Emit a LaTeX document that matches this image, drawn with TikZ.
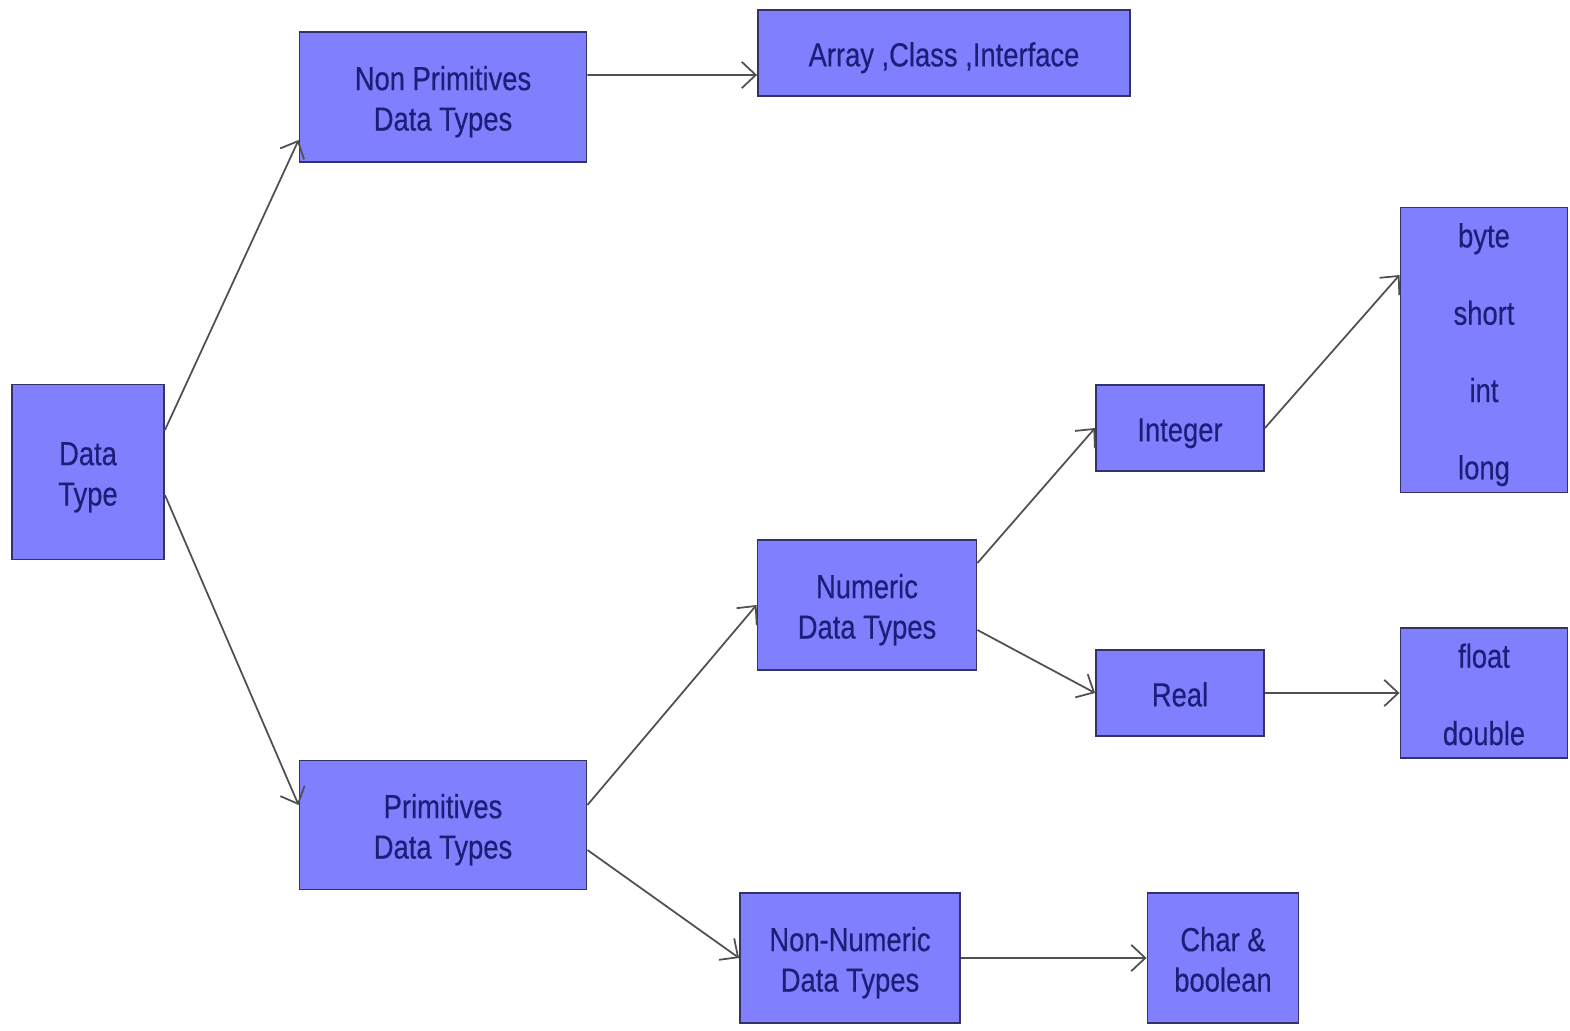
\documentclass[tikz,border=0pt]{standalone}
\usepackage{fontspec}
\setmainfont{Liberation Sans}[FakeStretch=0.82,FakeBold=0.4]
\usetikzlibrary{arrows.meta}
\definecolor{boxfill}{HTML}{8080FF}
\definecolor{boxline}{HTML}{33336A}
\definecolor{boxtext}{HTML}{1E1E78}
\definecolor{arrowc}{HTML}{505050}
\newcommand{\lowtxt}[1]{\raisebox{-3pt}[\height][\depth]{\begin{tabular}{@{}c@{}}#1\end{tabular}}}
\tikzset{
  box/.style={draw=boxline, line width=1.1pt, fill=boxfill, text=boxtext,
    inner sep=0pt, font=\fontsize{19}{23}\selectfont},
  conn/.style={draw=arrowc, line width=1pt, -{Straight Barb[length=8pt,width=15pt,line width=1pt]}}
}
\begin{document}
\begin{tikzpicture}[x=0.02cm,y=-0.02cm]
\useasboundingbox (0,0) rectangle (1570,1031);
\node[box, minimum width=3.04cm, minimum height=3.5cm] (dt) at (88,472) {\lowtxt{Data\\Type}};
\node[box, minimum width=5.74cm, minimum height=2.6cm] (np) at (443,97) {\lowtxt{Non Primitives\\Data Types}};
\node[box, minimum width=7.44cm, minimum height=1.72cm] (arr) at (944,53) {\lowtxt{Array ,Class ,Interface}};
\node[box, minimum width=5.74cm, minimum height=2.58cm] (pr) at (443,825) {\lowtxt{Primitives\\Data Types}};
\node[box, minimum width=4.38cm, minimum height=2.6cm] (num) at (867,605) {\lowtxt{Numeric\\Data Types}};
\node[box, minimum width=4.4cm, minimum height=2.6cm] (nn) at (850,958) {\lowtxt{Non-Numeric\\Data Types}};
\node[box, minimum width=3.36cm, minimum height=1.72cm] (int) at (1180,428) {\lowtxt{Integer}};
\node[box, minimum width=3.36cm, minimum height=1.72cm] (real) at (1180,693) {\lowtxt{Real}};
\node[box, minimum width=3.34cm, minimum height=5.7cm] (ints) at (1484,350) {\lowtxt{byte\\[21pt]short\\[21pt]int\\[21pt]long}};
\node[box, minimum width=3.34cm, minimum height=2.6cm] (flt) at (1484,693) {\lowtxt{float\\[21pt]double}};
\node[box, minimum width=3.02cm, minimum height=2.6cm] (chr) at (1223,958) {\lowtxt{Char \&\\boolean}};

\draw[conn] ([yshift=0.84cm]dt.east) -- ([yshift=-0.86cm]np.west);
\draw[conn] ([yshift=-0.46cm]dt.east) -- ([yshift=0.4cm]pr.west);
\draw[conn] ([yshift=0.44cm]np.east) -- ([yshift=-0.44cm]arr.west);
\draw[conn] ([yshift=0.4cm]pr.east) -- (num.west);
\draw[conn] ([yshift=-0.5cm]pr.east) -- (nn.west);
\draw[conn] ([yshift=0.84cm]num.east) -- (int.west);
\draw[conn] ([yshift=-0.5cm]num.east) -- (real.west);
\draw[conn] (int.east) -- ([yshift=1.5cm]ints.west);
\draw[conn] (real.east) -- (flt.west);
\draw[conn] (nn.east) -- (chr.west);
\end{tikzpicture}
\end{document}
